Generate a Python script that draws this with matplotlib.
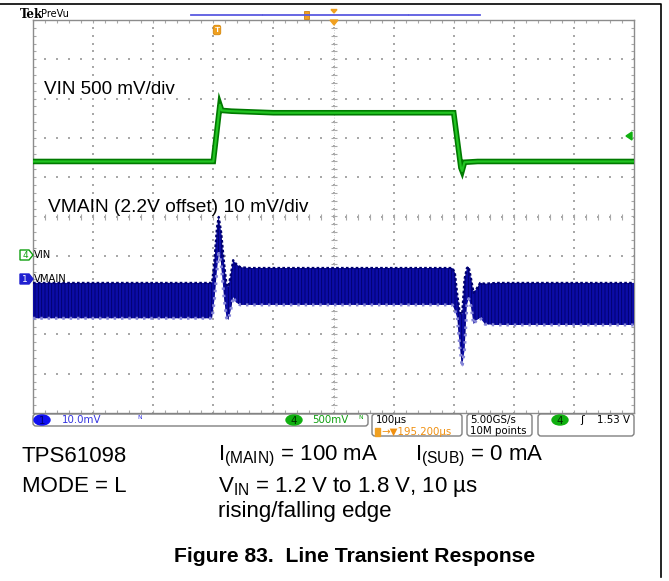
import numpy as np
import matplotlib
matplotlib.use('Agg')
import matplotlib.pyplot as plt
from matplotlib.patches import FancyBboxPatch, Ellipse, Polygon, Rectangle
from matplotlib.collections import LineCollection

plt.rcParams['font.family'] = ['Liberation Sans', 'DejaVu Sans']
plt.rcParams['mathtext.fontset'] = 'custom'
plt.rcParams['mathtext.rm'] = 'Liberation Sans'
plt.rcParams['hatch.linewidth'] = 0.6

# ---------------- data (read from the scope screen) ----------------
# time in microseconds across the 10-division screen (100 us/div)
vin_t = [0, 300, 311, 314, 330, 400, 700, 712, 714, 718, 740, 1000]
vin_v = [1.20, 1.20, 1.92, 1.85, 1.84, 1.82, 1.82, 1.12, 1.08, 1.19, 1.20, 1.20]   # V

vmain_t = [0, 298, 302, 306, 309, 313, 318, 322, 325, 329, 333, 338, 345, 360, 400,
           698, 702, 706, 710, 714, 718, 722, 725, 729, 733, 738, 744, 752, 770, 1000]
vmain_hi = [-1.0, -1.0, 5.0, 13.0, 15.8, 12.0, 4.0, -1.5, -2.0, 1.0, 4.8, 3.8, 3.0, 2.8, 2.8,
            2.8, 1.5, -4.0, -8.5, -9.0, 0.0, 2.8, 3.1, 0.0, -3.5, -2.5, -1.0, -1.2, -1.0, -1.0]  # mV vs 2.2 V
vmain_lo = [-10.0, -10.0, -5.0, 2.0, 6.5, 4.0, -5.0, -9.9, -10.4, -8.0, -4.6, -6.0, -6.6, -6.6, -6.6,
            -6.6, -8.0, -10.0, -17.0, -22.4, -18.0, -6.6, -5.0, -7.0, -11.5, -10.5, -9.9, -11.5, -11.7, -11.7]

vin_scale = 0.5        # V/div
vin_ground = -1.0      # div (channel 4 marker)
vmain_scale = 10.0     # mV/div
vmain_ref = -1.59      # div (channel 1 marker)

W, H = 669, 581
fig = plt.figure(figsize=(W / 100, H / 100), dpi=100)
fig.patch.set_facecolor('white')

L, R, T, B = 33, 634, 20, 413
ax = fig.add_axes([L / W, 1 - B / H, (R - L) / W, (B - T) / H])
ax.set_xlim(0, 1000)
ax.set_ylim(-5, 5)
ax.set_xticks([]); ax.set_yticks([])
for s in ax.spines.values():
    s.set_color('#8c8c8c'); s.set_linewidth(1.0)

pxx = 1000 / (R - L)
pxy = 10 / (B - T)
gridc = '#a8a8a8'

# dotted grid
dots_x, dots_y = [], []
for i in range(1, 10):
    for k in np.arange(-5, 5.001, 0.2):
        dots_x.append(i * 100); dots_y.append(k)
for j in range(-4, 5):
    for k in np.arange(0, 1000.1, 20):
        dots_x.append(k); dots_y.append(j)
ax.scatter(dots_x, dots_y, s=0.6, color=gridc, marker='s', linewidths=0, zorder=1)

segs = []
# border ticks and centre-line ticks
for k in np.arange(0, 1000.1, 20):
    segs.append([(k, 5), (k, 5 - 3 * pxy)])
    segs.append([(k, -5), (k, -5 + 3 * pxy)])
    segs.append([(k, -3 * pxy), (k, 3 * pxy)])
for k in np.arange(-5, 5.001, 0.2):
    segs.append([(0, k), (3 * pxx, k)])
    segs.append([(1000, k), (1000 - 3 * pxx, k)])
    segs.append([(500 - 3 * pxx, k), (500 + 3 * pxx, k)])
ax.add_collection(LineCollection(segs, colors=gridc, linewidths=0.8, zorder=1))
ax.plot([500, 500], [-5, 5], color='#b8b8b8', lw=0.6, ls=(0, (1, 2)), zorder=1)

# VIN trace (green)
vin_div = [vin_ground + v / vin_scale for v in vin_v]
ax.plot(vin_t, vin_div, color='#007a00', lw=4.0, solid_joinstyle='miter', zorder=3)
ax.plot(vin_t, vin_div, color='#22c422', lw=1.6, zorder=4)

# VMAIN trace (blue envelope)
hi = [vmain_ref + v / vmain_scale for v in vmain_hi]
lo = [vmain_ref + v / vmain_scale for v in vmain_lo]
ax.fill_between(vmain_t, lo, hi, facecolor='#0c0ca6', edgecolor='#00006a', hatch='|||||',
                linewidth=0, zorder=3)
ax.plot(vmain_t, hi, color='#000070', lw=1.6, ls=(0, (1.2, 1.0)), zorder=4)
ax.plot(vmain_t, lo, color='#8585d6', lw=2.2, ls=(0, (0.8, 1.6)), zorder=4)

# ---------------- overlay in pixel coordinates ----------------
ov = fig.add_axes([0, 0, 1, 1])
ov.set_xlim(0, W); ov.set_ylim(H, 0)
ov.axis('off')
ov.patch.set_alpha(0)

# outer frame
ov.plot([0, 661, 661], [4, 4, 577], color='black', lw=1.2)

# header
ov.text(20, 14, 'Tek', fontsize=8.5, fontweight='bold', family='DejaVu Serif', va='center')
ov.text(41, 14, 'PreVu', fontsize=7, family='DejaVu Sans', va='center')
for a, b in [(191, 261.5), (263, 407.5), (409, 480)]:
    ov.plot([a, b], [15, 15], color='#5a5ae0', lw=1.3)
ov.add_patch(Rectangle((303.5, 11), 5, 8, facecolor='#f0a020', edgecolor='#c07000', lw=0.5))
ov.add_patch(Polygon([(331, 9.5), (337, 9.5), (334, 13)], closed=True, color='#f0a020'))
ov.add_patch(Polygon([(330, 20), (338, 20), (334, 25)], closed=True, color='#f0a020'))
ov.add_patch(FancyBboxPatch((213.5, 25.5), 7, 9, boxstyle='round,pad=0.3,rounding_size=2',
                            facecolor='#f0a020', edgecolor='#d08000', lw=0.5))
ov.text(217, 30.3, 'T', fontsize=6, color='white', fontweight='bold', ha='center', va='center')

# right trigger level marker
ov.add_patch(Polygon([(626, 136), (632, 132), (632, 140)], closed=True, color='#10b010'))

# channel markers
ov.add_patch(Polygon([(20, 250), (29, 250), (33, 255), (29, 260), (20, 260)], closed=True,
                     facecolor='white', edgecolor='#10a010', lw=1))
ov.text(25, 255.5, '4', fontsize=6.5, color='#10a010', ha='center', va='center', family='DejaVu Sans')
ov.text(34, 255, 'VIN', fontsize=7.2, ha='left', va='center', family='DejaVu Sans')
ov.add_patch(Polygon([(20, 274), (29, 274), (33, 279), (29, 284), (20, 284)], closed=True,
                     facecolor='#2020d0', edgecolor='#2020d0', lw=1))
ov.text(25, 279.5, '1', fontsize=6.5, color='white', ha='center', va='center', family='DejaVu Sans')
ov.text(34, 279, 'VMAIN', fontsize=7.2, ha='left', va='center', family='DejaVu Sans')

# in-screen labels
ov.text(44, 90, 'VIN 500 mV/div', fontsize=13.6, va='center')
ov.text(48, 208, 'VMAIN (2.2V offset) 10 mV/div', fontsize=13.8, va='center')

# status bar
def rbox(x0, y0, x1, y1):
    ov.add_patch(FancyBboxPatch((x0 + 2, y0 + 2), x1 - x0 - 4, y1 - y0 - 4,
                                boxstyle='round,pad=2,rounding_size=3',
                                facecolor='white', edgecolor='#808080', lw=1))

rbox(33, 414, 368, 426)
rbox(372, 414, 462, 436)
rbox(467, 414, 532, 436)
rbox(538, 414, 634, 436)

sfont = dict(fontsize=7.4, family='DejaVu Sans', va='center')
ov.add_patch(Ellipse((42, 420), 16, 10, color='#1010f0'))
ov.text(42, 420.5, '1', color='#000070', ha='center', **sfont)
ov.text(62, 420, '10.0mV', color='#3535e0', **sfont)
ov.text(137, 420, 'ᴺ', color='#3535e0', fontsize=7, family='DejaVu Sans', va='center')
ov.add_patch(Ellipse((294, 420), 16, 10, color='#10b010'))
ov.text(294, 420.5, '4', color='#003000', ha='center', **sfont)
ov.text(312, 420, '500mV', color='#10a010', **sfont)
ov.text(358, 420, 'ᴺ', color='#10a010', fontsize=7, family='DejaVu Sans', va='center')

ov.text(376, 420, '100µs', color='black', **sfont)
ov.add_patch(Rectangle((375, 428), 5, 8, color='#f0a020'))
ov.text(381, 432, '→▼195.200µs', color='#f09010', **sfont)
ov.text(470, 420, '5.00GS/s', color='black', **sfont)
ov.text(470, 431, '10M points', color='black', **sfont)
ov.add_patch(Ellipse((560, 420), 16, 10, color='#10b010'))
ov.text(560, 420.5, '4', color='#003000', ha='center', **sfont)
ov.text(580, 420, 'ʃ', color='black', fontsize=8, family='DejaVu Sans', va='center')
ov.text(630, 420, '1.53 V', color='black', ha='right', **sfont)

# text below screenshot
tf = dict(fontsize=16, va='center')
ov.text(22, 456, 'TPS61098', **tf)
ov.text(22, 487, 'MODE = L', **tf)
ov.text(218, 456, r'I$\mathregular{_{(MAIN)}}$ = 100 mA', **tf)
ov.text(415, 456, r'I$\mathregular{_{(SUB)}}$ = 0 mA', **tf)
ov.text(218, 487, r'V$\mathregular{_{IN}}$ = 1.2 V to 1.8 V, 10 µs', **tf)
ov.text(218, 512, 'rising/falling edge', **tf)
ov.text(355, 556, 'Figure 83.  Line Transient Response', fontsize=15.2, fontweight='bold',
        ha='center', va='center')

fig.savefig('out.png', dpi=100, facecolor='white')
